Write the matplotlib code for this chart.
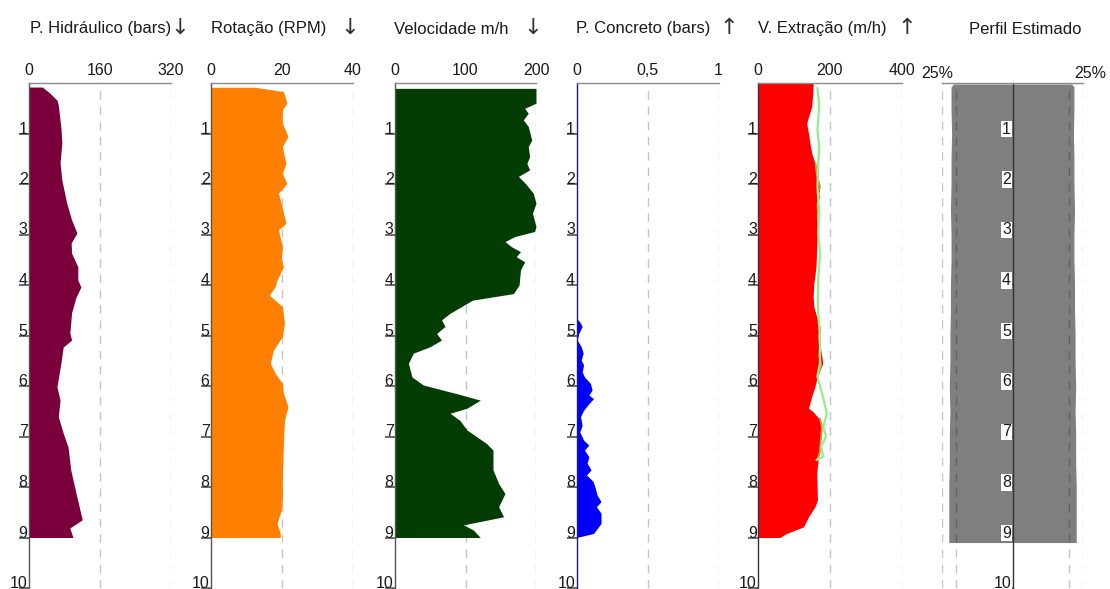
import matplotlib
matplotlib.use("Agg")
import matplotlib.pyplot as plt
import numpy as np

plt.rcParams['font.family'] = ['Liberation Sans', 'DejaVu Sans']

# ---------------- data ----------------
titles = ["P. Hidráulico (bars)", "Rotação (RPM)", "Velocidade m/h",
          "P. Concreto (bars)", "V. Extração (m/h)", "Perfil Estimado"]
arrows = ["↓", "↓", "↓", "↑", "↑", ""]

depth_ticks = [1, 2, 3, 4, 5, 6, 7, 8, 9, 10]
depth_labels = ["1", "2", "3", "4", "5", "6", "7", "8", "9", "10"]

hid_depth = [0.08, 0.20, 0.34, 0.44, 0.59, 0.89, 1.19, 1.58, 1.92, 2.38, 2.71, 2.97, 3.17,
             3.37, 3.64, 3.90, 4.04, 4.24, 4.55, 4.95, 5.09, 5.23, 5.54, 6.02, 6.28, 6.61,
             6.93, 7.21, 7.66, 8.20, 8.65, 8.81, 9.00]
hid_vals = [30, 47, 63, 66, 68, 72, 74, 70, 74, 85, 96, 108, 95, 96, 110, 110, 117, 106,
            96, 92, 96, 77, 72, 63, 70, 66, 77, 88, 94, 108, 120, 92, 99]
hid_ticks = [0, 160, 320]

rot_depth = [0.085, 0.17, 0.40, 0.53, 0.80, 1.06, 1.26, 1.59, 1.79, 1.99, 2.18, 2.45, 2.78,
             2.91, 3.24, 3.50, 3.64, 3.90, 4.03, 4.20, 4.43, 4.76, 5.02, 5.29, 5.55, 5.75,
             5.95, 6.14, 6.41, 6.67, 7.13, 7.80, 8.26, 8.46, 8.72, 8.92, 9.00]
rot_vals = [12.4, 20.4, 21.4, 20.1, 20.1, 21.7, 20.1, 21.1, 20.1, 21.4, 19.0, 20.0, 21.1,
            19.0, 20.1, 19.8, 20.4, 18.6, 18.1, 16.4, 20.1, 20.7, 20.1, 17.6, 16.7, 18.1,
            20.1, 20.4, 21.7, 20.7, 20.4, 20.1, 20.1, 19.8, 18.6, 19.5, 19.5]
rot_ticks = [0, 20, 40]

vel_depth = [0.106, 0.40, 0.50, 0.60, 0.73, 0.86, 1.13, 1.26, 1.46, 1.59, 1.72, 1.85, 1.99,
             2.18, 2.38, 2.58, 2.84, 2.94, 3.04, 3.14, 3.24, 3.34, 3.44, 3.54, 3.70, 4.00,
             4.17, 4.30, 4.56, 4.69, 4.82, 4.96, 5.09, 5.22, 5.35, 5.55, 5.82, 5.98, 6.15,
             6.28, 6.44, 6.54, 6.68, 6.87, 7.14, 7.27, 7.66, 7.93, 8.13, 8.39, 8.59, 8.75,
             8.85, 9.00]
vel_vals = [200, 200, 184, 189, 182, 189, 194, 189, 191, 187, 191, 175, 185, 196, 200, 195,
            200, 198, 170, 156, 165, 178, 172, 184, 178, 176, 168, 110, 78, 66, 71, 59, 66,
            50, 26, 19, 24, 40, 87, 121, 102, 78, 92, 102, 130, 139, 139, 147, 156, 147,
            154, 97, 111, 121]
vel_ticks = [0, 100, 200]

conc_depth = [4.66, 4.73, 4.82, 4.96, 5.09, 5.22, 5.35, 5.49, 5.58, 5.72, 5.82, 5.95, 6.08,
              6.18, 6.25, 6.35, 6.48, 6.61, 6.78, 6.91, 7.07, 7.17, 7.27, 7.40, 7.53, 7.66,
              7.76, 7.89, 8.03, 8.16, 8.29, 8.39, 8.52, 8.72, 8.92, 9.00]
conc_vals = [0, 0.023, 0.04, 0.016, 0.005, 0.033, 0.047, 0.033, 0.05, 0.04, 0.056, 0.098,
             0.11, 0.087, 0.12, 0.087, 0.05, 0.028, 0.04, 0.023, 0.05, 0.087, 0.056, 0.087,
             0.075, 0.103, 0.07, 0.117, 0.133, 0.145, 0.173, 0.14, 0.173, 0.173, 0.12, 0.0]
conc_ticks = [0, 0.5, 1]
conc_labels = ["0", "0,5", "1"]

ext_depth = [0.01, 0.20, 0.47, 0.67, 0.80, 1.00, 1.19, 1.39, 1.59, 1.79, 1.92, 2.05, 2.25,
             2.58, 2.91, 3.24, 3.64, 3.97, 4.23, 4.43, 4.63, 4.83, 5.00, 5.09, 5.55, 5.81,
             6.01, 6.21, 6.44, 6.51, 6.67, 6.94, 7.20, 7.46, 7.73, 8.26, 8.39, 8.59, 8.79,
             8.92, 9.00]
ext_vals = [153, 152, 149, 140, 135, 140, 144, 149, 158, 161, 165, 172, 167, 163, 165, 163,
            161, 155, 153, 155, 163, 172, 167, 170, 180, 165, 158, 149, 140, 153, 172, 175,
            172, 167, 163, 165, 158, 140, 126, 79, 60]
ref_depth = [0.10, 0.47, 0.93, 1.26, 1.59, 2.05, 2.58, 2.97, 3.37, 3.90, 4.43, 4.83, 5.09,
             5.55, 5.81, 6.21, 6.54, 6.81, 7.00, 7.20, 7.40, 7.46]
ref_vals = [165, 170, 165, 170, 167, 165, 170, 167, 172, 167, 166, 170, 172, 172, 165, 180,
            191, 181, 189, 175, 181, 163]
aux_depth = [1.60, 1.80, 1.95, 2.05, 2.15, 2.25, 2.40, 2.60, np.nan,
             4.75, 4.90, 5.05, 5.20, 5.40, 5.60, 5.80, np.nan,
             6.65, 6.80, 6.95, 7.10, 7.30, 7.46]
aux_vals = [160, 163, 168, 172, 166, 171, 165, 166, np.nan,
            168, 173, 169, 172, 170, 176, 165, np.nan,
            172, 178, 176, 174, 172, 165]
ext_ticks = [0, 200, 400]

perf_depth = [0.02, 0.08, 0.5, 1.0, 1.5, 2.0, 2.5, 3.0, 3.5, 4.0, 4.5, 5.0, 5.5, 6.0, 6.5,
              7.0, 7.5, 8.0, 8.5, 9.0, 9.1]
perf_radius = [1.05, 1.09, 1.09, 1.08, 1.09, 1.09, 1.10, 1.09, 1.09, 1.10, 1.10, 1.11, 1.11,
               1.12, 1.11, 1.12, 1.12, 1.13, 1.13, 1.13, 1.13]
perf_lim = 1.25
perf_nominal = 1.0

# ---------------- layout ----------------
W, H = 1110, 589
fig = plt.figure(figsize=(W / 100, H / 100), dpi=100)
fig.patch.set_facecolor("white")

left_px = [29, 211, 395, 576.5, 758.3, 942]
width_px = [142, 142, 141, 142, 143.4, 141]
top_px, bot_px = 83, 588
title_x = [30, 211, 394, 576, 758, 969]
arrow_x = [180, 350, 533, 729, 907, 0]

TXT = "#1a1a1a"
GRID = "#c4c4c4"
DASH = (0, (6, 5))


def style_yticks(ax, boxed=False):
    ax.set_yticks(depth_ticks)
    ax.set_yticklabels(depth_labels)
    ax.tick_params(axis="y", direction="out", length=7, width=1.1, color="#444444",
                   pad=-6, labelsize=11.5, labelcolor=TXT)
    for lab in ax.get_yticklabels():
        lab.set_va("baseline")
        if boxed:
            lab.set_bbox(dict(facecolor="white", edgecolor="none", pad=0.6))


axes = []
for i in range(6):
    ax = fig.add_axes([left_px[i] / W, (H - bot_px) / H, width_px[i] / W, (bot_px - top_px) / H])
    ax.set_ylim(10, 0)
    for s in ["right", "bottom"]:
        ax.spines[s].set_visible(False)
    ax.spines["top"].set_color("#8a8a8a")
    ax.spines["top"].set_linewidth(1.0)
    ax.spines["left"].set_color("#555555")
    ax.spines["left"].set_linewidth(1.0)
    ax.xaxis.tick_top()
    ax.tick_params(axis="x", length=0, pad=3.6, labelsize=11.5, labelcolor=TXT)
    style_yticks(ax)
    axes.append(ax)
    fig.text(title_x[i] / W, 1 - 29 / H, titles[i], ha="left", va="center",
             fontsize=12, color=TXT)
    if arrows[i]:
        fig.text(arrow_x[i] / W, 1 - 28 / H, arrows[i], ha="center", va="center",
                 fontsize=16, color="#333333", family=["DejaVu Sans"])


def grid(ax, xs):
    for x in xs:
        ax.axvline(x, color=GRID, lw=1, ls=DASH, zorder=0.5)


# Panel 1
ax = axes[0]
ax.set_xlim(0, 320)
ax.set_xticks(hid_ticks)
ax.set_xticklabels([str(t) for t in hid_ticks])
grid(ax, hid_ticks[1:])
ax.fill_betweenx(hid_depth, 0, hid_vals, color="#7a003c", lw=0, zorder=1)

# Panel 2
ax = axes[1]
ax.set_xlim(0, 40)
ax.set_xticks(rot_ticks)
ax.set_xticklabels([str(t) for t in rot_ticks])
grid(ax, rot_ticks[1:])
ax.fill_betweenx(rot_depth, 0, rot_vals, color="#ff8000", lw=0, zorder=1)

# Panel 3
ax = axes[2]
ax.set_xlim(0, 200)
ax.set_xticks(vel_ticks)
ax.set_xticklabels([str(t) for t in vel_ticks])
grid(ax, vel_ticks[1:])
ax.fill_betweenx(vel_depth, 0, vel_vals, color="#033d03", lw=0, zorder=1)

# Panel 4
ax = axes[3]
ax.set_xlim(0, 1)
ax.set_xticks(conc_ticks)
ax.set_xticklabels(conc_labels)
grid(ax, conc_ticks[1:])
ax.spines["left"].set_color("#1c1c78")
ax.fill_betweenx(conc_depth, 0, conc_vals, color="#0000ff", lw=0, zorder=1)

# Panel 5
ax = axes[4]
ax.set_xlim(0, 400)
ax.set_xticks(ext_ticks)
ax.set_xticklabels([str(t) for t in ext_ticks])
grid(ax, ext_ticks[1:])
ax.spines["left"].set_color("#333333")
ax.fill_betweenx(ext_depth, 0, ext_vals, color="#ff0000", lw=0, zorder=1)
ax.plot(aux_vals, aux_depth, color="#c8963c", lw=1.3, zorder=2.8)
ax.plot(ref_vals, ref_depth, color="#90ee90", lw=1.6, zorder=3)

# Panel 6
ax = axes[5]
ax.set_xlim(-perf_lim, perf_lim)
ax.set_xticks([])
ax.text(-0.035, 1.0099, "25%", transform=ax.transAxes, ha="center", va="baseline",
        fontsize=11.5, color=TXT)
ax.text(1.05, 1.0099, "25%", transform=ax.transAxes, ha="center", va="baseline",
        fontsize=11.5, color=TXT)
grid(ax, [-perf_lim, -perf_nominal, perf_nominal, perf_lim])
ax.spines["left"].set_position(("data", 0))
ax.spines["left"].set_color("#333333")
style_yticks(ax, boxed=True)
r = np.array(perf_radius)
ax.fill_betweenx(perf_depth, -r, r, color="black", alpha=0.5, lw=0, zorder=1)

fig.savefig("out.png", dpi=100, facecolor="white")
